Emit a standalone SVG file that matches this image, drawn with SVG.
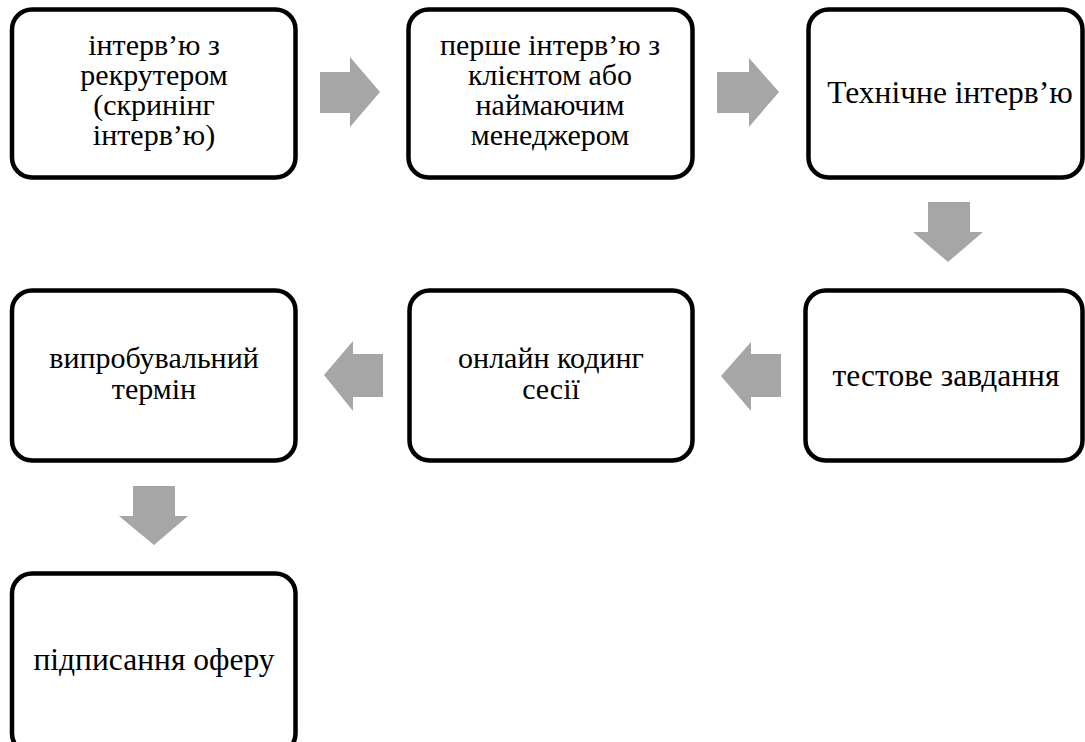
<svg xmlns="http://www.w3.org/2000/svg" width="1085" height="742" viewBox="0 0 1085 742">
<style>
.box{fill:#fff;stroke:#000;stroke-width:4.5}
.t{font-family:'Liberation Serif','Times New Roman',serif;font-size:30px;fill:#000;text-anchor:middle}
.t2{font-family:'Liberation Serif','Times New Roman',serif;font-size:31.5px;fill:#000;text-anchor:middle}
.arr{fill:#a6a6a6}
</style>
<rect width="1085" height="742" fill="#fff"/>
<g id="connectors">
<polygon class="arr" points="320,72 350,72 350,57 380,92 350,127 350,113 320,113"/>
<polygon class="arr" points="717,72 749,72 749,58 779,92 749,127 749,113 717,113"/>
<polygon class="arr" points="928,202 970,202 970,232 983,232 948,262 913,232 928,232"/>
<polygon class="arr" points="781,354 751,354 751,342 721,376 751,411 751,397 781,397"/>
<polygon class="arr" points="383,354 353,354 353,341 324,375 353,411 353,397 383,397"/>
<polygon class="arr" points="133,486 175,486 175,516 188,516 154,545 119,516 133,516"/>
</g>
<g id="n1">
<rect class="box" x="12" y="9.5" width="283.5" height="168" rx="20"/>
<text class="t" x="154" y="55">інтерв’ю з</text>
<text class="t" x="154" y="85">рекрутером</text>
<text class="t" x="154" y="115">(скринінг</text>
<text class="t" x="154" y="145">інтерв’ю)</text>
</g>
<g id="n2">
<rect class="box" x="408.5" y="9.5" width="284" height="168" rx="20"/>
<text class="t" x="550" y="55">перше інтерв’ю з</text>
<text class="t" x="550" y="85">клієнтом або</text>
<text class="t" x="550" y="115">наймаючим</text>
<text class="t" x="550" y="145">менеджером</text>
</g>
<g id="n3">
<rect class="box" x="808.5" y="9.5" width="274" height="168" rx="20"/>
<text class="t2" x="950" y="103">Технічне інтерв’ю</text>
</g>
<g id="n4">
<rect class="box" x="12" y="290.5" width="283.5" height="170" rx="20"/>
<text class="t" x="154" y="368">випробувальний</text>
<text class="t" x="154" y="399">термін</text>
</g>
<g id="n5">
<rect class="box" x="409.5" y="290.5" width="283" height="170" rx="20"/>
<text class="t" x="551" y="368">онлайн кодинг</text>
<text class="t" x="551" y="399">сесії</text>
</g>
<g id="n6">
<rect class="box" x="805.5" y="290.5" width="277" height="170" rx="20"/>
<text class="t2" x="946" y="386">тестове завдання</text>
</g>
<g id="n7">
<rect class="box" x="12" y="573.5" width="283.5" height="180" rx="20"/>
<text class="t2" x="154" y="670">підписання оферу</text>
</g>
</svg>
